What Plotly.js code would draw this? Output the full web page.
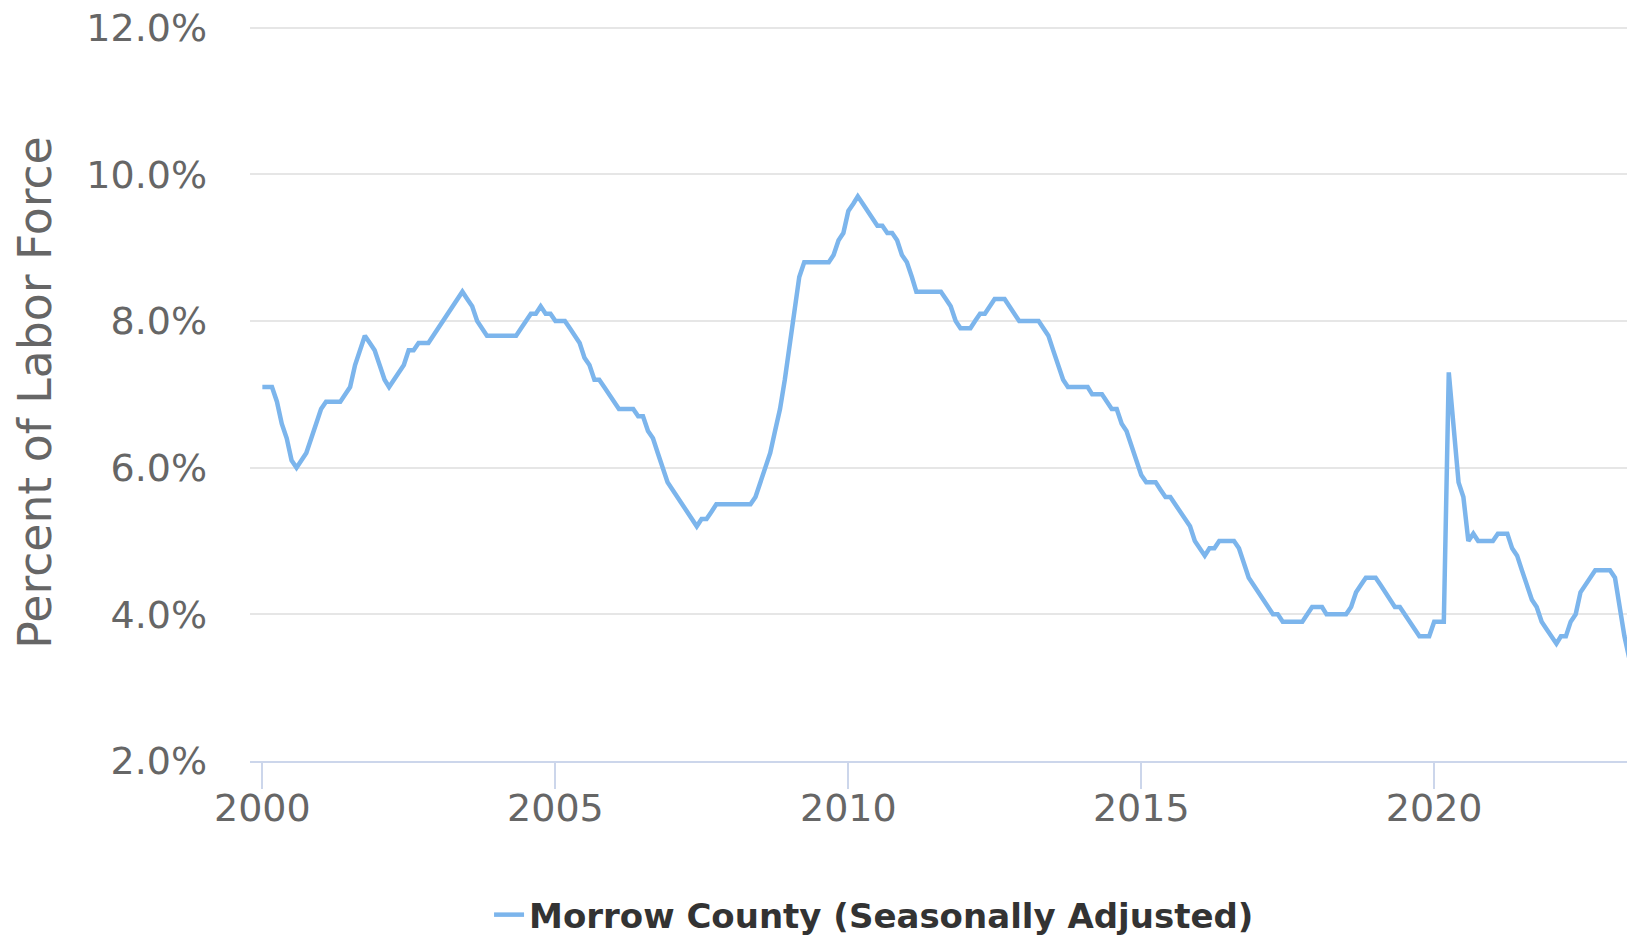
<!DOCTYPE html>
<html>
<head>
<meta charset="utf-8">
<script src="https://cdn.plot.ly/plotly-3.0.1.min.js"></script>
<style>html,body{margin:0;padding:0;background:#fff;}#chart{width:1627px;height:936px;}</style>
</head>
<body>
<div id="chart"></div>
<script>
// Monthly unemployment rate (%), Morrow County, seasonally adjusted
const startYear = 2000;
const rates2000_2004 = [
  7.1,7.1,7.1,6.9,6.6,6.4,6.1,6.0,6.1,6.2,6.4,6.6,
  6.8,6.9,6.9,6.9,6.9,7.0,7.1,7.4,7.6,7.8,7.7,7.6,
  7.4,7.2,7.1,7.2,7.3,7.4,7.6,7.6,7.7,7.7,7.7,7.8,
  7.9,8.0,8.1,8.2,8.3,8.4,8.3,8.2,8.0,7.9,7.8,7.8,
  7.8,7.8,7.8,7.8,7.8,7.9,8.0,8.1,8.1,8.2,8.1,8.1
];
const rates2005_2009 = [
  8.0,8.0,8.0,7.9,7.8,7.7,7.5,7.4,7.2,7.2,7.1,7.0,
  6.9,6.8,6.8,6.8,6.8,6.7,6.7,6.5,6.4,6.2,6.0,5.8,
  5.7,5.6,5.5,5.4,5.3,5.2,5.3,5.3,5.4,5.5,5.5,5.5,
  5.5,5.5,5.5,5.5,5.5,5.6,5.8,6.0,6.2,6.5,6.8,7.2,
  7.7,8.2,8.6,8.8,8.8,8.8,8.8,8.8,8.8,8.9,9.1,9.2
];
const rates2010_2014 = [
  9.5,9.6,9.7,9.6,9.5,9.4,9.3,9.3,9.2,9.2,9.1,8.9,
  8.8,8.6,8.4,8.4,8.4,8.4,8.4,8.4,8.3,8.2,8.0,7.9,
  7.9,7.9,8.0,8.1,8.1,8.2,8.3,8.3,8.3,8.2,8.1,8.0,
  8.0,8.0,8.0,8.0,7.9,7.8,7.6,7.4,7.2,7.1,7.1,7.1,
  7.1,7.1,7.0,7.0,7.0,6.9,6.8,6.8,6.6,6.5,6.3,6.1
];
const rates2015_2019 = [
  5.9,5.8,5.8,5.8,5.7,5.6,5.6,5.5,5.4,5.3,5.2,5.0,
  4.9,4.8,4.9,4.9,5.0,5.0,5.0,5.0,4.9,4.7,4.5,4.4,
  4.3,4.2,4.1,4.0,4.0,3.9,3.9,3.9,3.9,3.9,4.0,4.1,
  4.1,4.1,4.0,4.0,4.0,4.0,4.0,4.1,4.3,4.4,4.5,4.5,
  4.5,4.4,4.3,4.2,4.1,4.1,4.0,3.9,3.8,3.7,3.7,3.7
];
const rates2020_2023 = [
  3.9,3.9,3.9,7.3,6.5,5.8,5.6,5.0,5.1,5.0,5.0,5.0,
  5.0,5.1,5.1,5.1,4.9,4.8,4.6,4.4,4.2,4.1,3.9,3.8,
  3.7,3.6,3.7,3.7,3.9,4.0,4.3,4.4,4.5,4.6,4.6,4.6,
  4.6,4.5,4.1,3.7,3.4
];
const seriesName = 'Morrow County (Seasonally Adjusted)';
const yTicks = [2,4,6,8,10,12];
const xTickYears = [2000,2005,2010,2015,2020];

const rates = [].concat(rates2000_2004, rates2005_2009, rates2010_2014, rates2015_2019, rates2020_2023);
const months = rates.map((_, i) => {
  const y = startYear + Math.floor(i / 12);
  const m = (i % 12) + 1;
  return y + '-' + (m < 10 ? '0' + m : m) + '-01';
});

const font = 'DejaVu Sans, Verdana, sans-serif';

const trace = {
  x: months,
  y: rates,
  type: 'scatter',
  mode: 'lines',
  name: seriesName,
  line: {color: '#7cb5ec', width: 4.5},
  showlegend: true
};

const layout = {
  width: 1627,
  height: 936,
  margin: {l: 250, r: 0, t: 24, b: 175},
  paper_bgcolor: '#ffffff',
  plot_bgcolor: '#ffffff',
  font: {family: font, color: '#666666'},
  xaxis: {
    type: 'date',
    range: ['1999-10-16', '2023-04-17'],
    tickvals: xTickYears.map(y => y + '-01-01'),
    ticktext: xTickYears.map(String),
    automargin: false,
    showgrid: false,
    zeroline: false,
    showline: true,
    linecolor: '#ccd6eb',
    linewidth: 2,
    ticks: 'outside',
    ticklen: 26,
    tickwidth: 2,
    tickcolor: '#ccd6eb',
    ticklabelstandoff: -14,
    tickfont: {family: font, size: 38, color: '#666666'}
  },
  yaxis: {
    range: [2, 12.05],
    tickvals: yTicks,
    ticktext: yTicks.map(v => v.toFixed(1) + '%'),
    automargin: false,
    showgrid: true,
    gridcolor: '#e6e6e6',
    gridwidth: 2,
    zeroline: false,
    showline: false,
    ticks: '',
    ticklabelstandoff: 42,
    tickfont: {family: font, size: 38, color: '#666666'},
    title: {text: 'Percent of Labor Force', font: {family: font, size: 45.7, color: '#666666'}, standoff: 20}
  },
  showlegend: true,
  legend: {
    orientation: 'h',
    xref: 'paper',
    x: 0.1736,
    xanchor: 'left',
    yref: 'container',
    y: 0.0224,
    yanchor: 'middle',
    font: {family: font, size: 34, color: '#333333', weight: 'bold'},
    bgcolor: 'rgba(0,0,0,0)'
  }
};

Plotly.newPlot('chart', [trace], layout, {displayModeBar: false, responsive: false});
</script>
</body>
</html>
